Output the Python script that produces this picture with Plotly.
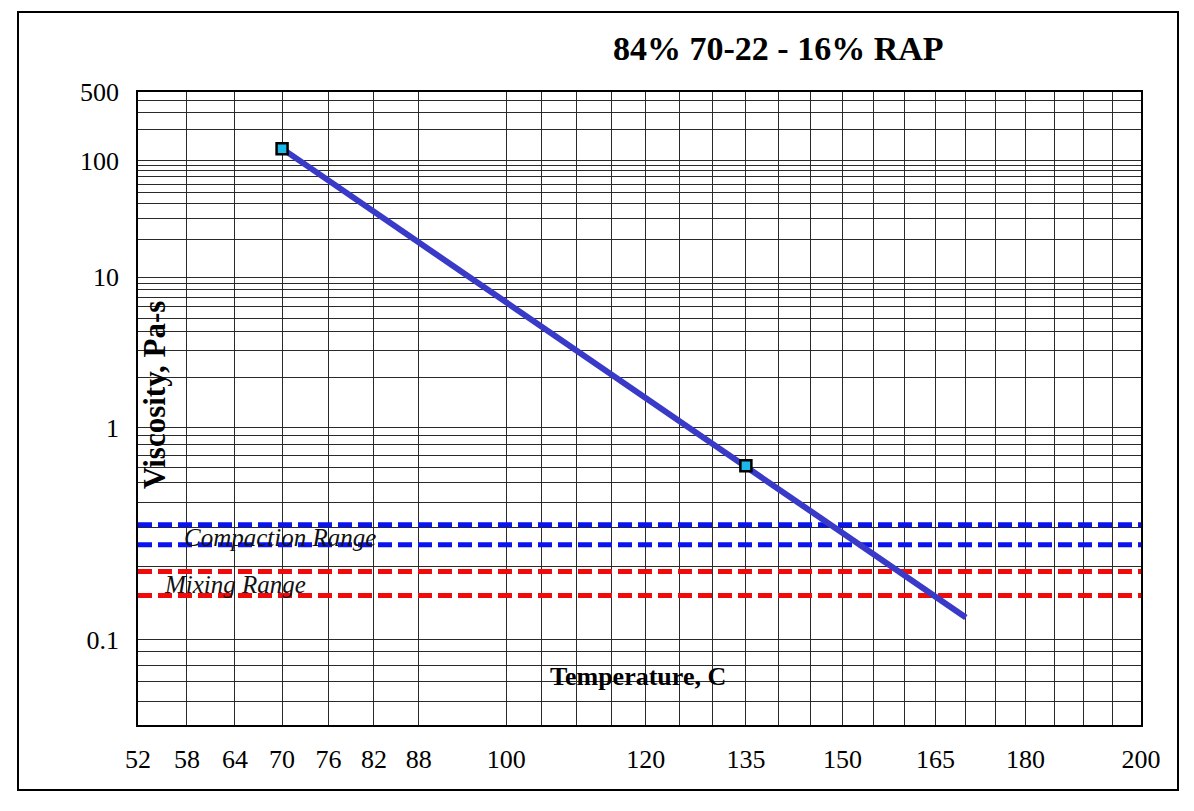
import numpy as np
import plotly.graph_objects as go

# ---------------- data ----------------
measured_temps_c = [70, 135]
measured_visc_pas = [130, 0.615]

fit_temps_c = [70, 170]
fit_visc_pas = [130, 0.122]

compaction_range_pas = [0.25, 0.31]
mixing_range_pas = [0.15, 0.19]

x_grid_temps = [52, 58, 64, 70, 76, 82, 88, 100, 105, 110, 115, 120, 125, 130,
                135, 140, 145, 150, 155, 160, 165, 170, 175, 180, 185, 190, 195, 200]
x_label_temps = [52, 58, 64, 70, 76, 82, 88, 100, 120, 135, 150, 165, 180, 200]

y_grid_visc = [500, 400, 300, 200, 100, 90, 80, 70, 60, 50, 40, 30, 20,
               10, 9, 8, 7, 6, 5, 4, 3, 2,
               1, 0.9, 0.8, 0.7, 0.6, 0.5, 0.4, 0.3, 0.2,
               0.1, 0.09, 0.08, 0.07, 0.06, 0.05]
y_label_visc = [500, 100, 10, 1, 0.1]

title_text = "84% 70-22 - 16% RAP"
x_title = "Temperature, C"
y_title = "Viscosity, Pa-s"


# ASTM D2493 style transforms: log(T abs) vs log(log(viscosity in cP))
def tx(t):
    return np.log10(np.asarray(t, dtype=float) + 273.15)


def ty(v):
    return np.log10(np.log10(np.asarray(v, dtype=float) * 1000.0))


def fmt(v):
    return ("%g" % v)


SERIF = "Liberation Serif, Times New Roman, serif"

fig = go.Figure()

x_lo, x_hi = float(tx(x_grid_temps[0])), float(tx(x_grid_temps[-1]))

# range lines
for val in compaction_range_pas:
    fig.add_trace(go.Scatter(
        x=[x_lo, x_hi], y=[float(ty(val))] * 2, mode="lines",
        line=dict(color="#0A14F0", width=5, dash="14px,6px"),
        hoverinfo="skip", showlegend=False))
for val in mixing_range_pas:
    fig.add_trace(go.Scatter(
        x=[x_lo, x_hi], y=[float(ty(val))] * 2, mode="lines",
        line=dict(color="#F00A0A", width=5, dash="14px,6px"),
        hoverinfo="skip", showlegend=False))

# fitted line
fig.add_trace(go.Scatter(
    x=tx(fit_temps_c), y=ty(fit_visc_pas), mode="lines",
    line=dict(color="#3A3AC8", width=6),
    showlegend=False))

# measured points
fig.add_trace(go.Scatter(
    x=tx(measured_temps_c), y=ty(measured_visc_pas), mode="markers",
    marker=dict(symbol="square", size=11, color="#1BB8E8",
                line=dict(color="black", width=2.5)),
    showlegend=False))

x_ticktext = [str(t) if t in x_label_temps else "" for t in x_grid_temps]
y_ticktext = [fmt(v) if v in y_label_visc else "" for v in y_grid_visc]

fig.update_xaxes(
    range=[x_lo, x_hi], tickmode="array",
    tickvals=list(tx(x_grid_temps)), ticktext=x_ticktext,
    showgrid=True, gridcolor="#2a2a2a", gridwidth=1,
    showline=True, linecolor="black", linewidth=1.5, mirror=True,
    ticks="", ticklabelstandoff=10, zeroline=False,
    tickfont=dict(family=SERIF, size=26, color="black"))
fig.update_yaxes(
    range=[float(ty(0.05)), float(ty(500))], tickmode="array",
    tickvals=list(ty(y_grid_visc)), ticktext=y_ticktext,
    showgrid=True, gridcolor="#2a2a2a", gridwidth=1,
    showline=True, linecolor="black", linewidth=1.5, mirror=True,
    ticks="", ticklabelstandoff=12, zeroline=False,
    tickfont=dict(family=SERIF, size=26, color="black"))

# page pixel geometry (the html body adds an 8px margin)
OFF = 8
W, H = 1194, 811
L, R, T, B = 138, 1141, 92, 725


def px(xp):
    return (xp - L) / (R - L)


def py(yp):
    return (B - yp) / (B - T)


annotations = [
    dict(text="<b>%s</b>" % title_text, xref="paper", yref="paper",
         x=px(778), y=py(48), xanchor="center", yanchor="middle",
         showarrow=False, font=dict(family=SERIF, size=34, color="black")),
    dict(text="<b>%s</b>" % y_title, xref="paper", yref="paper",
         x=px(155), y=py(395), xanchor="center", yanchor="middle",
         textangle=-90, showarrow=False,
         font=dict(family=SERIF, size=31, color="black")),
    dict(text="<b>%s</b>" % x_title, xref="paper", yref="paper",
         x=px(638), y=py(676), xanchor="center", yanchor="middle",
         showarrow=False, font=dict(family=SERIF, size=26, color="black")),
    dict(text="<i>Compaction Range</i>", xref="paper", yref="y",
         x=px(182), y=float(ty(0.28)), yshift=-3, xanchor="left", yanchor="middle",
         showarrow=False, font=dict(family=SERIF, size=25, color="#111111")),
    dict(text="<i>Mixing Range</i>", xref="paper", yref="y",
         x=px(162), y=float(ty(0.17)), yshift=-2, xanchor="left", yanchor="middle",
         showarrow=False, font=dict(family=SERIF, size=25, color="#111111")),
]

shapes = [
    dict(type="rect", xref="paper", yref="paper",
         x0=px(18), x1=px(1178), y0=py(790), y1=py(12),
         line=dict(color="black", width=2), fillcolor="rgba(0,0,0,0)", layer="below"),
]

fig.update_layout(
    width=W - 2 * OFF, height=H - 2 * OFF,
    margin=dict(l=L - OFF, r=(W - OFF) - R, t=T - OFF, b=(H - OFF) - B),
    paper_bgcolor="white", plot_bgcolor="white",
    annotations=annotations, shapes=shapes,
    showlegend=False,
    font=dict(family=SERIF, color="black"),
)

fig.write_html("out.html")
